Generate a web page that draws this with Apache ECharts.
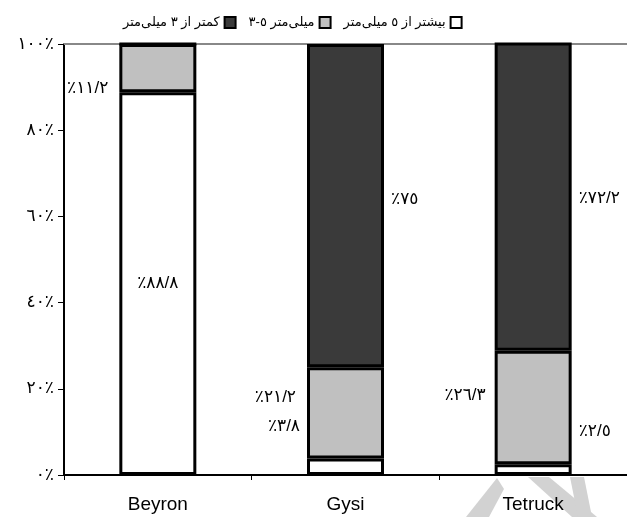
<!DOCTYPE html>
<html>
<head>
<meta charset="utf-8">
<script src="https://cdn.jsdelivr.net/npm/echarts@6/dist/echarts.min.js"></script>
<style>
  html, body { margin: 0; padding: 0; background: #fff; }
  #chart { width: 627px; height: 517px; }
</style>
</head>
<body>
<div id="chart"></div>
<script>
// Share of particle sizes per sample (percent)
const categories = ['Beyron', 'Gysi', 'Tetruck'];
const seriesNames = ['بیشتر از ٥ میلی‌متر', 'میلی‌متر ٥-٣', 'کمتر از ٣ میلی‌متر'];
const over5mm = [88.8, 3.8, 2.5];
const from3to5mm = [11.2, 21.2, 26.3];
const under3mm = [0, 75, 72.2];
const yTicks = ['٠٪', '٢٠٪', '٤٠٪', '٦٠٪', '٨٠٪', '١٠٠٪'];

const arabicDigits = '٠١٢٣٤٥٦٧٨٩';
function toArabic(str) {
  return String(str).replace(/[0-9]/g, d => arabicDigits[+d]).replace('.', '/');
}
function pctLabel(v) { return '٪' + toArabic(v); }

const FONT = "'Liberation Sans', 'DejaVu Sans', Arial, sans-serif";
const labelStyle = { color: '#000', fontSize: 17, fontFamily: FONT };

// per-bar label placement: [position, dx, dy]
const placeOver5 = [['inside', 0, 0], ['left', -2, -40], ['right', 2, -38]];
const placeMid = [['left', -6, 20], ['left', -6, -16], ['left', -4, -12]];
const placeUnder = [null, ['right', 2, -6], ['right', 2, 2]];

function buildData(values, places) {
  return values.map((v, i) => {
    const p = places[i];
    if (!p || v === 0) return { value: v, label: { show: false } };
    return {
      value: v,
      label: { show: true, position: p[0], offset: [p[1], p[2]], formatter: () => pctLabel(v), ...labelStyle }
    };
  });
}

const barBase = {
  type: 'bar',
  stack: 'total',
  barWidth: 77,
  itemStyle: { borderColor: '#000', borderWidth: 3 }
};

// faint arrow-shaped watermark near the bottom right corner
const markColor = '#d2d2d2';
const watermark = [
  { type: 'polygon', z: -1, shape: { points: [[497, 478], [504, 489], [489, 517], [466, 517]] }, style: { fill: markColor } },
  { type: 'polygon', z: -1, shape: { points: [[528, 477], [549, 477], [597, 517], [572, 517]] }, style: { fill: markColor } },
  { type: 'polygon', z: -1, shape: { points: [[570, 477], [584, 477], [592, 517], [578, 517]] }, style: { fill: markColor } }
];

const chart = echarts.init(document.getElementById('chart'), null, { renderer: 'canvas' });
chart.setOption({
  animation: false,
  backgroundColor: '#fff',
  textStyle: { fontFamily: FONT },
  grid: { left: 64, right: -1, top: 44, bottom: 42 },
  graphic: watermark,
  legend: {
    top: 11,
    left: 118,
    align: 'right',
    icon: 'rect',
    itemWidth: 11,
    itemHeight: 11,
    itemGap: 12,
    itemStyle: { borderColor: '#000', borderWidth: 2 },
    data: [seriesNames[2], seriesNames[1], seriesNames[0]],
    textStyle: { fontSize: 13, color: '#000', fontFamily: FONT }
  },
  xAxis: [{
    type: 'category',
    data: categories,
    axisLine: { lineStyle: { color: '#000', width: 2 } },
    axisTick: { show: true, inside: false, length: 5, lineStyle: { color: '#000' } },
    axisLabel: { fontSize: 19, color: '#000', margin: 20, fontFamily: FONT }
  }, {
    type: 'category',
    data: categories,
    position: 'top',
    axisLine: { lineStyle: { color: '#888', width: 2 } },
    axisTick: { show: false },
    axisLabel: { show: false }
  }],
  yAxis: {
    type: 'value',
    min: 0,
    max: 100,
    interval: 20,
    axisLine: { show: true, lineStyle: { color: '#000', width: 2 } },
    axisTick: { show: true, length: 6, lineStyle: { color: '#000' } },
    splitLine: { show: false },
    axisLabel: {
      fontSize: 17, color: '#000', margin: 10, fontFamily: FONT,
      formatter: v => yTicks[v / 20]
    }
  },
  series: [
    { ...barBase, name: seriesNames[0], data: buildData(over5mm, placeOver5), itemStyle: { ...barBase.itemStyle, color: '#fff' } },
    { ...barBase, name: seriesNames[1], data: buildData(from3to5mm, placeMid), itemStyle: { ...barBase.itemStyle, color: '#c0c0c0' } },
    { ...barBase, name: seriesNames[2], data: buildData(under3mm, placeUnder), itemStyle: { ...barBase.itemStyle, color: '#3a3a3a' } }
  ]
});
</script>
</body>
</html>
